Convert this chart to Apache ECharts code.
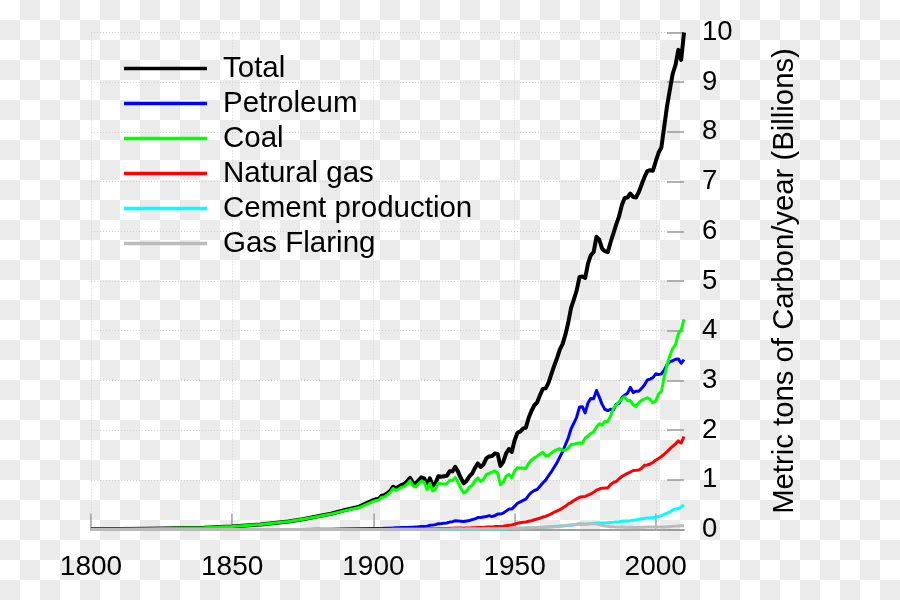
<!DOCTYPE html>
<html>
<head>
<meta charset="utf-8">
<script src="https://cdn.jsdelivr.net/npm/echarts@6/dist/echarts.min.js"></script>
<style>
  html, body { margin: 0; padding: 0; }
  body {
    width: 900px; height: 600px;
    background: repeating-conic-gradient(#ebebeb 0% 25%, #ffffff 0% 50%) 0 0 / 40px 40px;
  }
  #chart { width: 900px; height: 600px; }
</style>
</head>
<body>
<div id="chart"></div>
<script>
// ---- Data (billions of metric tons of carbon per year) ----
const years = [
  1800, 1810, 1820, 1830, 1840, 1850, 1855, 1860, 1865, 1870, 1875, 1880, 1885, 1890, 1895,
  1900, 1901, 1902, 1903, 1904, 1905, 1906, 1907, 1908, 1909,
  1910, 1911, 1912, 1913, 1914, 1915, 1916, 1917, 1918, 1919,
  1920, 1921, 1922, 1923, 1924, 1925, 1926, 1927, 1928, 1929,
  1930, 1931, 1932, 1933, 1934, 1935, 1936, 1937, 1938, 1939,
  1940, 1941, 1942, 1943, 1944, 1945, 1946, 1947, 1948, 1949,
  1950, 1951, 1952, 1953, 1954, 1955, 1956, 1957, 1958, 1959,
  1960, 1961, 1962, 1963, 1964, 1965, 1966, 1967, 1968, 1969,
  1970, 1971, 1972, 1973, 1974, 1975, 1976, 1977, 1978, 1979,
  1980, 1981, 1982, 1983, 1984, 1985, 1986, 1987, 1988, 1989,
  1990, 1991, 1992, 1993, 1994, 1995, 1996, 1997, 1998, 1999,
  2000, 2001, 2002, 2003, 2004, 2005, 2006, 2007, 2008, 2009, 2010
];

const total = [
  0.009, 0.011, 0.015, 0.026, 0.036, 0.059, 0.080, 0.100, 0.129, 0.162, 0.207, 0.260, 0.317, 0.392, 0.459,
  0.59, 0.61, 0.62, 0.68, 0.69, 0.73, 0.78, 0.86, 0.83, 0.86,
  0.90, 0.92, 0.97, 1.04, 0.94, 0.92, 0.99, 1.05, 1.03, 0.89,
  1.03, 0.88, 0.93, 1.07, 1.06, 1.07, 1.08, 1.17, 1.17, 1.26,
  1.16, 1.03, 0.93, 0.98, 1.07, 1.13, 1.24, 1.33, 1.26, 1.31,
  1.43, 1.47, 1.48, 1.53, 1.52, 1.28, 1.36, 1.53, 1.62, 1.56,
  1.79, 1.94, 1.97, 2.03, 2.05, 2.25, 2.39, 2.50, 2.56, 2.70,
  2.83, 2.84, 2.95, 3.12, 3.29, 3.44, 3.62, 3.73, 3.92, 4.16,
  4.46, 4.63, 4.81, 5.08, 5.09, 5.06, 5.35, 5.52, 5.58, 5.89,
  5.83, 5.65, 5.60, 5.58, 5.78, 5.96, 6.14, 6.30, 6.53, 6.67,
  6.68, 6.76, 6.69, 6.68, 6.79, 6.94, 7.09, 7.21, 7.23, 7.22,
  7.41, 7.58, 7.69, 8.11, 8.52, 8.85, 9.17, 9.35, 9.65, 9.45, 10.0
];

const petroleum = [
  0, 0, 0, 0, 0, 0, 0, 0, 0, 0.001, 0.002, 0.004, 0.006, 0.009, 0.013,
  0.018, 0.020, 0.021, 0.022, 0.025, 0.025, 0.025, 0.029, 0.033, 0.035,
  0.039, 0.040, 0.042, 0.045, 0.047, 0.050, 0.054, 0.060, 0.060, 0.068,
  0.084, 0.088, 0.098, 0.116, 0.116, 0.128, 0.130, 0.150, 0.158, 0.175,
  0.172, 0.167, 0.160, 0.172, 0.180, 0.198, 0.215, 0.240, 0.240, 0.250,
  0.260, 0.280, 0.260, 0.280, 0.310, 0.310, 0.330, 0.370, 0.410, 0.410,
  0.465, 0.527, 0.554, 0.586, 0.613, 0.688, 0.747, 0.785, 0.804, 0.868,
  0.934, 0.994, 1.078, 1.157, 1.251, 1.341, 1.455, 1.565, 1.706, 1.840,
  2.023, 2.142, 2.263, 2.465, 2.470, 2.345, 2.545, 2.638, 2.631, 2.798,
  2.664, 2.518, 2.416, 2.394, 2.419, 2.405, 2.522, 2.537, 2.653, 2.705,
  2.741, 2.861, 2.756, 2.783, 2.782, 2.840, 2.907, 3.009, 3.027, 3.057,
  3.133, 3.117, 3.131, 3.207, 3.317, 3.378, 3.395, 3.425, 3.432, 3.344, 3.418
];

const coal = [
  0.009, 0.011, 0.015, 0.026, 0.036, 0.059, 0.080, 0.100, 0.129, 0.161, 0.205, 0.256, 0.310, 0.380, 0.442,
  0.566, 0.584, 0.593, 0.651, 0.658, 0.698, 0.747, 0.822, 0.787, 0.815,
  0.850, 0.869, 0.916, 0.983, 0.880, 0.857, 0.922, 0.976, 0.955, 0.807,
  0.928, 0.774, 0.812, 0.931, 0.920, 0.916, 0.922, 0.989, 0.978, 1.046,
  0.949, 0.827, 0.736, 0.772, 0.851, 0.889, 0.978, 1.038, 0.968, 1.005,
  1.109, 1.127, 1.156, 1.180, 1.137, 0.900, 0.954, 1.071, 1.109, 1.042,
  1.177, 1.242, 1.231, 1.238, 1.228, 1.329, 1.400, 1.440, 1.470, 1.520,
  1.551, 1.484, 1.486, 1.536, 1.579, 1.606, 1.626, 1.593, 1.593, 1.635,
  1.712, 1.715, 1.734, 1.739, 1.737, 1.840, 1.881, 1.932, 1.958, 2.063,
  2.129, 2.099, 2.174, 2.175, 2.281, 2.438, 2.505, 2.573, 2.626, 2.671,
  2.592, 2.594, 2.511, 2.473, 2.554, 2.598, 2.625, 2.651, 2.618, 2.548,
  2.589, 2.726, 2.778, 3.073, 3.309, 3.501, 3.640, 3.718, 3.941, 4.013, 4.226
];

const naturalGas = [
  0, 0, 0, 0, 0, 0, 0, 0, 0, 0, 0, 0, 0.001, 0.003, 0.004,
  0.004, 0.004, 0.004, 0.005, 0.005, 0.005, 0.006, 0.006, 0.007, 0.007,
  0.008, 0.008, 0.009, 0.009, 0.010, 0.010, 0.011, 0.011, 0.012, 0.012,
  0.014, 0.014, 0.016, 0.018, 0.019, 0.020, 0.022, 0.024, 0.026, 0.030,
  0.030, 0.028, 0.027, 0.028, 0.030, 0.033, 0.036, 0.040, 0.040, 0.042,
  0.048, 0.050, 0.052, 0.058, 0.062, 0.060, 0.064, 0.074, 0.084, 0.090,
  0.107, 0.127, 0.136, 0.144, 0.152, 0.165, 0.177, 0.196, 0.211, 0.227,
  0.250, 0.264, 0.289, 0.315, 0.348, 0.371, 0.400, 0.431, 0.466, 0.514,
  0.542, 0.583, 0.616, 0.647, 0.657, 0.664, 0.693, 0.715, 0.748, 0.793,
  0.814, 0.832, 0.835, 0.837, 0.904, 0.946, 0.965, 1.022, 1.066, 1.099,
  1.129, 1.156, 1.188, 1.190, 1.197, 1.232, 1.291, 1.298, 1.318, 1.349,
  1.396, 1.429, 1.469, 1.514, 1.565, 1.621, 1.675, 1.725, 1.784, 1.738, 1.872
];

const cement = [
  0, 0, 0, 0, 0, 0, 0, 0, 0, 0, 0, 0, 0, 0, 0,
  0.002, 0.002, 0.002, 0.002, 0.002, 0.002, 0.002, 0.003, 0.003, 0.003,
  0.003, 0.003, 0.003, 0.003, 0.003, 0.003, 0.003, 0.003, 0.003, 0.003,
  0.004, 0.004, 0.004, 0.005, 0.005, 0.006, 0.006, 0.007, 0.008, 0.009,
  0.009, 0.008, 0.007, 0.008, 0.009, 0.010, 0.011, 0.012, 0.012, 0.013,
  0.013, 0.013, 0.012, 0.012, 0.011, 0.010, 0.012, 0.015, 0.017, 0.018,
  0.020, 0.022, 0.024, 0.026, 0.030, 0.033, 0.035, 0.037, 0.040, 0.044,
  0.047, 0.050, 0.054, 0.056, 0.063, 0.065, 0.069, 0.072, 0.077, 0.081,
  0.086, 0.092, 0.098, 0.105, 0.106, 0.105, 0.113, 0.119, 0.128, 0.131,
  0.132, 0.133, 0.133, 0.138, 0.141, 0.144, 0.151, 0.157, 0.167, 0.172,
  0.173, 0.177, 0.184, 0.194, 0.205, 0.217, 0.223, 0.230, 0.233, 0.241,
  0.249, 0.261, 0.277, 0.304, 0.328, 0.352, 0.392, 0.414, 0.421, 0.454, 0.495
];

const gasFlaring = [
  0, 0, 0, 0, 0, 0, 0, 0, 0, 0, 0, 0, 0, 0, 0,
  0, 0, 0, 0, 0, 0, 0, 0, 0, 0,
  0, 0, 0, 0, 0, 0, 0, 0, 0, 0,
  0.002, 0.002, 0.003, 0.004, 0.004, 0.005, 0.006, 0.007, 0.008, 0.010,
  0.009, 0.008, 0.007, 0.008, 0.009, 0.010, 0.011, 0.012, 0.012, 0.013,
  0.014, 0.014, 0.014, 0.015, 0.016, 0.016, 0.018, 0.020, 0.022, 0.023,
  0.025, 0.026, 0.029, 0.030, 0.030, 0.034, 0.035, 0.039, 0.039, 0.040,
  0.043, 0.046, 0.048, 0.052, 0.056, 0.061, 0.066, 0.073, 0.080, 0.088,
  0.096, 0.097, 0.105, 0.121, 0.118, 0.101, 0.119, 0.114, 0.117, 0.108,
  0.098, 0.080, 0.070, 0.064, 0.056, 0.054, 0.051, 0.048, 0.055, 0.045,
  0.044, 0.050, 0.040, 0.040, 0.040, 0.044, 0.047, 0.050, 0.048, 0.052,
  0.051, 0.051, 0.051, 0.052, 0.054, 0.057, 0.063, 0.068, 0.072, 0.073, 0.073
];

const xTicks = [1800, 1850, 1900, 1950, 2000];
const yTicks = [0, 1, 2, 3, 4, 5, 6, 7, 8, 9, 10];
const seriesNames = ['Total', 'Petroleum', 'Coal', 'Natural gas', 'Cement production', 'Gas Flaring'];
const seriesColors = ['#000000', '#0000ff', '#00ff00', '#ff0000', '#00ffff', '#bbbbbb'];
const seriesWidths = [4, 3, 3, 3, 3, 3];
const seriesValues = [total, petroleum, coal, naturalGas, cement, gasFlaring];
const axisName = 'Metric tons of Carbon/year (Billions)';

// ---- Chart ----
const FONT = '"Liberation Sans", Arial, sans-serif';
const chart = echarts.init(document.getElementById('chart'), null, { renderer: 'canvas' });

const series = seriesNames.map((name, k) => ({
  name: name,
  type: 'line',
  data: years.map((yr, i) => [yr, seriesValues[k][i]]),
  symbol: 'none',
  smooth: false,
  color: seriesColors[k],
  lineStyle: { color: seriesColors[k], width: seriesWidths[k], join: 'round' },
  z: 2 + k,
  animation: false
}));

// vertical dotted grid lines at x ticks
series[0].markLine = {
  silent: true,
  symbol: 'none',
  z: 1,
  animation: false,
  label: { show: false },
  lineStyle: { color: '#d0d0d0', width: 1, type: [1, 2] },
  data: xTicks.map(v => ({ xAxis: v }))
};

const option = {
  backgroundColor: 'transparent',
  animation: false,
  textStyle: { fontFamily: FONT },
  grid: { left: 91, right: 216, top: 32.5, bottom: 70.5, containLabel: false },
  legend: {
    orient: 'vertical',
    left: 124,
    top: 51,
    padding: 0,
    itemGap: 0,
    itemWidth: 83,
    itemHeight: 3.5,
    icon: 'rect',
    data: seriesNames,
    selectedMode: false,
    textStyle: { fontFamily: FONT, fontSize: 29.5, color: '#000', lineHeight: 35, padding: [0, 0, 0, 11] }
  },
  xAxis: {
    type: 'value',
    min: 1800,
    max: 2010,
    interval: 50,
    axisLine: { show: true, lineStyle: { color: '#a0a0a0', width: 2 } },
    axisTick: { show: true, inside: true, length: 16, customValues: xTicks, lineStyle: { color: '#999', width: 1.5 } },
    axisLabel: {
      show: true, margin: 24, fontSize: 28, color: '#000', fontFamily: FONT,
      customValues: xTicks,
      formatter: v => (xTicks.indexOf(v) >= 0 ? String(v) : '')
    },
    splitLine: { show: false }
  },
  yAxis: {
    type: 'value',
    position: 'right',
    min: 0,
    max: 10,
    interval: 1,
    name: axisName,
    nameLocation: 'middle',
    nameRotate: 90,
    nameGap: 86,
    nameTextStyle: { fontSize: 29.3, color: '#000', fontFamily: FONT },
    axisLine: { show: false },
    axisTick: { show: true, inside: true, length: 17, lineStyle: { color: '#999', width: 1.5 } },
    axisLabel: { show: true, margin: 18, fontSize: 27.5, color: '#000', fontFamily: FONT, align: 'left', padding: [3, 0, 0, 0] },
    splitLine: { show: true, lineStyle: { color: '#d0d0d0', width: 1, type: [1, 2] } }
  },
  series: series
};

chart.setOption(option);
</script>
</body>
</html>
